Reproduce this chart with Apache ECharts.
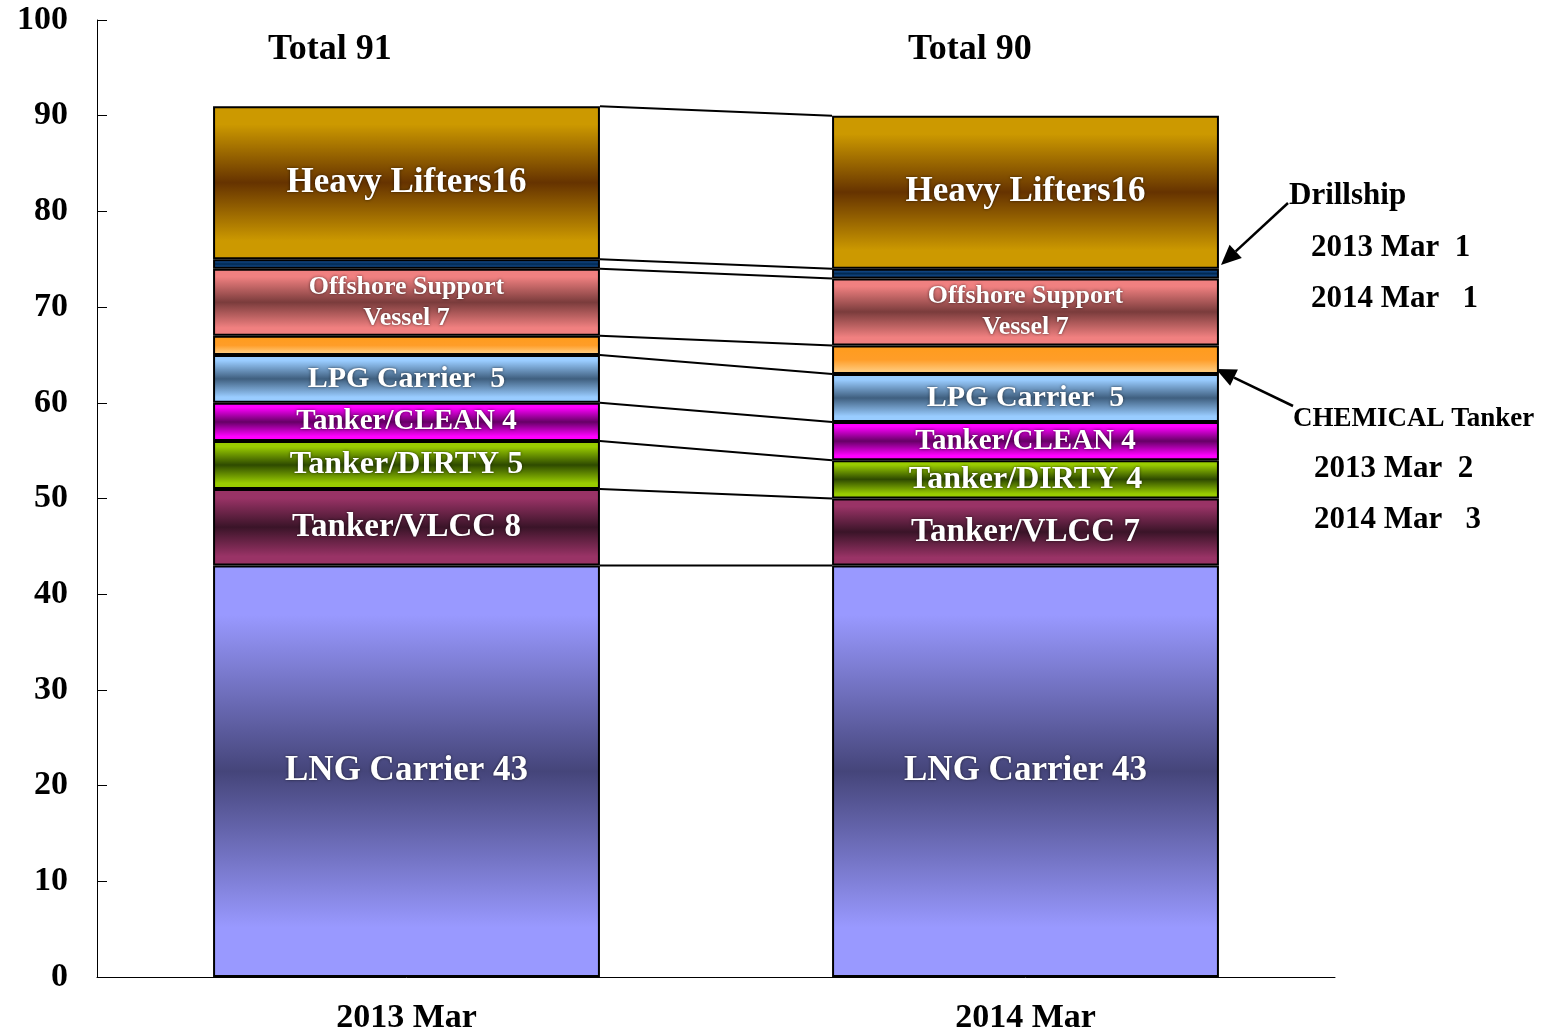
<!DOCTYPE html>
<html>
<head>
<meta charset="utf-8">
<script src="https://cdn.jsdelivr.net/npm/echarts@6/dist/echarts.min.js"></script>
<style>
  html, body { margin: 0; padding: 0; background: #fff; }
  #chart { width: 1551px; height: 1036px; }
</style>
</head>
<body>
<div id="chart"></div>
<script>
// 隻数（下から積み上げ順）
const categories = ['2013 Mar', '2014 Mar']
const lng = [43, 43]
const vlcc = [8, 7]
const dirty = [5, 4]
const clean = [4, 4]
const lpg = [5, 5]
const chemical = [2, 3]
const offshore = [7, 7]
const drillship = [1, 1]
const heavy = [16, 16]
const totals = [91, 90]

const FONT = '"Liberation Serif", "Times New Roman", serif'

// 上下が明るく中央が暗い縦グラデーション
function grad(edge, mid, bottom) {
	return new echarts.graphic.LinearGradient(0, 0, 0, 1, [
		{ offset: 0, color: edge },
		{ offset: 0.12, color: edge },
		{ offset: 0.5, color: mid },
		{ offset: 0.88, color: bottom || edge },
		{ offset: 1, color: bottom || edge },
	])
}

const layers = [
	{ name: 'LNG Carrier', data: lng, label: v => 'LNG Carrier ' + v, size: 35, color: grad('#9999ff', '#45457a') },
	{ name: 'Tanker/VLCC', data: vlcc, label: v => 'Tanker/VLCC ' + v, size: 33, color: grad('#993366', '#3a1428') },
	{ name: 'Tanker/DIRTY', data: dirty, label: v => 'Tanker/DIRTY ' + v, size: 32, color: grad('#99cc00', '#2e4a00') },
	{ name: 'Tanker/CLEAN', data: clean, label: v => 'Tanker/CLEAN ' + v, size: 29, color: grad('#ff00ff', '#660066') },
	{ name: 'LPG Carrier', data: lpg, label: v => 'LPG Carrier  ' + v, size: 30, color: grad('#99ccff', '#3f5f7f') },
	{ name: 'CHEMICAL Tanker', data: chemical, label: null, color: grad('#ff9c1f', '#ff9d28', '#ffc878') },
	{ name: 'Offshore Support Vessel', data: offshore, label: v => 'Offshore Support\nVessel ' + v, size: 26, color: grad('#f08080', '#7a3c3c') },
	{ name: 'Drillship', data: drillship, label: null, color: grad('#1a56a0', '#002850') },
	{ name: 'Heavy Lifters', data: heavy, label: v => 'Heavy Lifters' + v, size: 35, color: grad('#cc9900', '#663300') },
]

// 各境界の累計（2本の棒をつなぐ線用）
const boundaries = []
let c0 = 0, c1 = 0
for (const l of layers) {
	c0 += l.data[0]; c1 += l.data[1]
	boundaries.push([0, c0, c1])
}

const BAR_RATIO = 0.625

const series = layers.map(l => ({
	name: l.name,
	type: 'bar',
	stack: 'total',
	barWidth: BAR_RATIO * 100 + '%',
	data: l.data,
	itemStyle: { color: l.color, borderColor: '#000', borderWidth: 2 },
	label: l.label ? {
		show: true,
		position: 'inside',
		formatter: p => l.label(p.value),
		color: '#fff',
		fontFamily: FONT,
		fontWeight: 'bold',
		fontSize: l.size,
		lineHeight: Math.round(l.size * 1.2),
		textShadowColor: 'rgba(0,0,0,0.6)',
		textShadowBlur: 3,
		overflow: 'none',
	} : { show: false },
	emphasis: { disabled: true },
}))

series.push({
	name: 'connector',
	type: 'custom',
	silent: true,
	clip: false,
	encode: { x: 0, y: [1, 2] },
	data: boundaries,
	renderItem: (params, api) => {
		const p1 = api.coord([0, api.value(1)])
		const p2 = api.coord([1, api.value(2)])
		const half = api.size([1, 0])[0] * BAR_RATIO / 2
		return {
			type: 'line',
			shape: { x1: p1[0] + half, y1: p1[1], x2: p2[0] - half, y2: p2[1] },
			style: { stroke: '#000', lineWidth: 2 },
		}
	},
})

const textStyle = { fontFamily: FONT, fontWeight: 'bold', fill: '#000' }

function arrow(x1, y1, x2, y2) {
	const ang = Math.atan2(y2 - y1, x2 - x1)
	const len = 20, w = 9
	const bx = x2 - len * Math.cos(ang), by = y2 - len * Math.sin(ang)
	return [
		{ type: 'line', shape: { x1, y1, x2: bx, y2: by }, style: { stroke: '#000', lineWidth: 2.5 } },
		{
			type: 'polygon',
			shape: {
				points: [
					[x2, y2],
					[bx + w * Math.sin(ang), by - w * Math.cos(ang)],
					[bx - w * Math.sin(ang), by + w * Math.cos(ang)],
				],
			},
			style: { fill: '#000' },
		},
	]
}

const graphic = [
	{ type: 'text', left: 268, top: 32, style: { ...textStyle, text: 'Total ' + totals[0], fontSize: 36 } },
	{ type: 'text', left: 908, top: 32, style: { ...textStyle, text: 'Total ' + totals[1], fontSize: 36 } },
	{ type: 'text', left: 1289, top: 180, style: { ...textStyle, text: 'Drillship', fontSize: 31 } },
	{ type: 'text', left: 1311, top: 232, style: { ...textStyle, text: '2013 Mar  ' + drillship[0], fontSize: 31 } },
	{ type: 'text', left: 1311, top: 283, style: { ...textStyle, text: '2014 Mar   ' + drillship[1], fontSize: 31 } },
	{ type: 'text', left: 1293, top: 406, style: { ...textStyle, text: 'CHEMICAL Tanker', fontSize: 27 } },
	{ type: 'text', left: 1314, top: 453, style: { ...textStyle, text: '2013 Mar  ' + chemical[0], fontSize: 31 } },
	{ type: 'text', left: 1314, top: 504, style: { ...textStyle, text: '2014 Mar   ' + chemical[1], fontSize: 31 } },
	...arrow(1288, 203, 1221, 265),
	...arrow(1293, 406, 1216, 369),
]

const chart = echarts.init(document.getElementById('chart'))
chart.setOption({
	animation: false,
	grid: { left: 97, right: 216, top: 20, bottom: 59, containLabel: false },
	xAxis: {
		type: 'category',
		data: categories,
		axisLine: { lineStyle: { color: '#000', width: 1 } },
		axisTick: { inside: true, length: 10, lineStyle: { color: '#000' } },
		axisLabel: { color: '#000', fontFamily: FONT, fontWeight: 'bold', fontSize: 34, margin: 24 },
		splitLine: { show: false },
	},
	yAxis: {
		type: 'value',
		min: 0,
		max: 100,
		interval: 10,
		axisLine: { show: true, lineStyle: { color: '#000', width: 1 } },
		axisTick: { show: true, inside: true, length: 10, lineStyle: { color: '#000' } },
		axisLabel: { color: '#000', fontFamily: FONT, fontWeight: 'bold', fontSize: 34, margin: 29 },
		splitLine: { show: false },
	},
	graphic,
	series,
})
</script>
</body>
</html>
